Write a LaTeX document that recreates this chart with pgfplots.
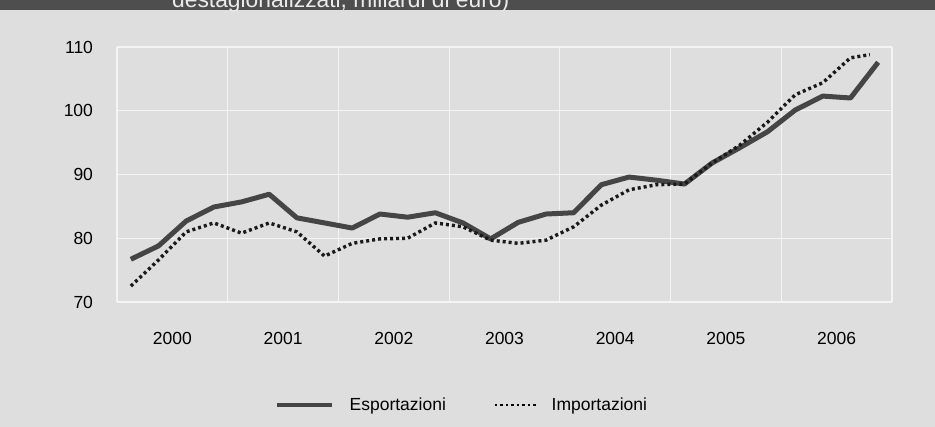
\documentclass[border=0pt]{standalone}
\usepackage{pgfplots}
\pgfplotsset{compat=1.18}
\usepackage{fontspec}
\setmainfont{Liberation Sans}
\definecolor{bg}{HTML}{DEDEDE}
\definecolor{hdr}{HTML}{4E4E4E}
\definecolor{expc}{HTML}{454545}
\definecolor{gridc}{HTML}{F4F4F4}
\begin{document}
\fontsize{17.5}{21}\selectfont
\begin{tikzpicture}
\useasboundingbox (0pt,0pt) rectangle (935pt,427pt);
\clip (0pt,0pt) rectangle (935pt,427pt);
\fill[bg] (0pt,0pt) rectangle (935pt,427pt);
\fill[hdr] (0pt,417pt) rectangle (935pt,427pt);
\node[anchor=base west, text=white!92!black, inner sep=0pt, font=\fontsize{22.8}{26}\selectfont] at (172pt,419pt) {destagionalizzati, miliardi di euro)};
\begin{axis}[
  at={(117pt,125pt)}, anchor=south west,
  scale only axis, width=775pt, height=255pt,
  xmin=0, xmax=28, ymin=70, ymax=110,
  clip=false,
  axis line style={draw=none},
  major tick length=0pt,
  grid=major,
  grid style={gridc, line width=1.2pt},
  xtick={0,4,...,28}, xticklabels={},
  extra x ticks={2,6,10,14,18,22,26},
  extra x tick labels={2000,2001,2002,2003,2004,2005,2006},
  extra x tick style={grid=none, major tick length=0pt},
  ytick={70,80,...,110},
  tick label style={font=\fontsize{17.5}{21}\selectfont},
  /pgf/number format/assume math mode=true,
  yticklabel style={anchor=east, xshift=-18pt},
  xticklabel style={anchor=north, yshift=-24pt},
  legend columns=2,
  legend style={at={(axis description cs:0.444,-0.404)}, anchor=center,
    draw=none, fill=none, font=\fontsize{17.5}{21}\selectfont,
    nodes={inner sep=0pt},
    /tikz/every odd column/.append style={column sep=15pt},
    /tikz/every even column/.append style={column sep=48pt}},
]
\addplot[expc, line width=5pt, line join=round,
  legend image code/.code={\draw[expc, line width=4.5pt] (0pt,0pt) -- (55pt,0pt);}] coordinates {
(0.5,76.7) (1.5,78.8) (2.5,82.7) (3.5,84.9) (4.5,85.7) (5.5,86.9) (6.5,83.2)
(7.5,82.4) (8.5,81.6) (9.5,83.8) (10.5,83.3) (11.5,84.0) (12.5,82.4) (13.5,79.9)
(14.5,82.5) (15.5,83.8) (16.5,84.0) (17.5,88.4) (18.5,89.6) (19.5,89.1) (20.5,88.5)
(21.5,91.8) (22.5,94.2) (23.5,96.7) (24.5,100.1) (25.5,102.3) (26.5,102.0) (27.5,107.6)
};
\addlegendentry{Esportazioni}
\addplot[black!90, line width=3.4pt, dash pattern=on 3pt off 3pt,
  legend image code/.code={\draw[black, line width=1.8pt, dash pattern=on 2.5pt off 3pt] (0pt,0pt) -- (41pt,0pt);}] coordinates {
(0.5,72.5) (1.5,76.6) (2.5,81.0) (3.5,82.4) (4.5,80.8) (5.5,82.4) (6.5,81.0)
(7.5,77.2) (8.5,79.2) (9.5,79.9) (10.5,80.0) (11.5,82.4) (12.5,81.8) (13.5,79.7)
(14.5,79.2) (15.5,79.7) (16.5,81.8) (17.5,85.2) (18.5,87.6) (19.5,88.4) (20.5,88.5)
(21.5,91.8) (22.5,94.6) (23.5,98.2) (24.5,102.5) (25.5,104.4) (26.5,108.3) (27.2,108.8)
};
\addlegendentry{Importazioni}
\end{axis}
\end{tikzpicture}
\end{document}
